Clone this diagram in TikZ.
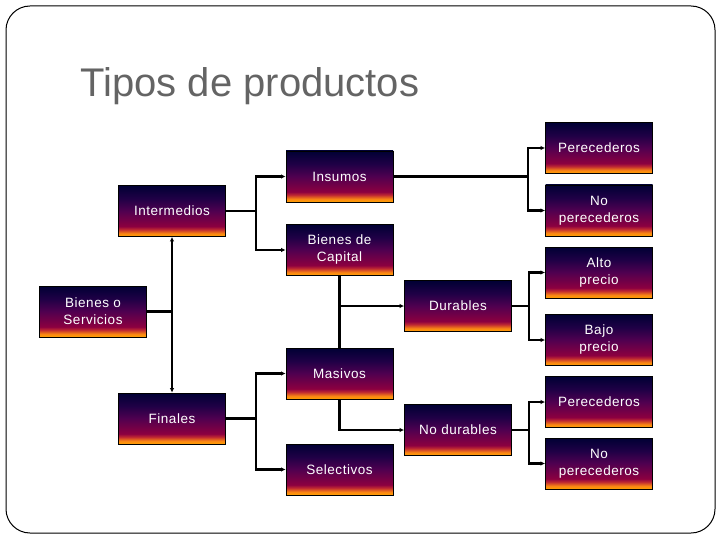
\documentclass[tikz,border=0pt]{standalone}
\usepackage{fontspec}
\setmainfont{Liberation Sans}
\newfontfamily\boxfont[LetterSpace=4]{Liberation Sans}
\usetikzlibrary{arrows.meta,positioning,calc}
\definecolor{titlegray}{RGB}{100,100,100}
\definecolor{shOrange}{RGB}{255,160,0}
\definecolor{shOrangeB}{RGB}{250,135,20}
\definecolor{shRed}{RGB}{190,40,50}
\definecolor{shCrimson}{RGB}{140,0,64}
\definecolor{shPurple}{RGB}{80,0,80}
\definecolor{shDeep}{RGB}{32,0,70}
\definecolor{shNavy}{RGB}{0,0,52}
\pgfdeclareverticalshading{boxshade}{100bp}{%
  color(0bp)=(shOrange); color(25bp)=(shOrange); color(28bp)=(shOrangeB);
  color(32bp)=(shRed); color(35bp)=(shCrimson); color(50bp)=(shPurple);
  color(62bp)=(shDeep); color(75bp)=(shNavy); color(100bp)=(shNavy)}

\begin{document}
\begin{tikzpicture}[
  x=1pt, y=-1pt,
  >={Latex[length=4.5pt,width=4.5pt]},
  every node/.style={font=\boxfont\fontsize{13.5}{17}\selectfont},
  catbox/.style={draw=black, line width=0.8pt, shading=boxshade,
    minimum width=107pt, minimum height=51pt, inner sep=0pt,
    text=white, align=center},
  link/.style={line width=2.2pt},
  branch/.style={line width=2.2pt, ->},
]
\useasboundingbox (0,0) rectangle (720,540);

% --- Frame and title ------------------------------------------
\draw[line width=1pt, rounded corners=24pt] (6,6) rectangle (715,533);
\node[anchor=base west, text=titlegray, font=\rmfamily\fontsize{40}{48}\selectfont] (title) at (77,97) {Tipos de productos};

% --- Nodes -----------------------------------------------------
% First level (left)
\node[catbox] (BoS) at (93,311.5) {Bienes o\\Servicios};
\node[catbox] (Inter) at (172,211) {Intermedios};
\node[catbox] (Fin) at (172,418.5) {Finales};

% Second level (center)
\node[catbox] (Ins) at (339.5,176.5) {Insumos};
\node[catbox] (BdC) at (339.5,250) {Bienes de\\Capital};
\node[catbox] (Mas) at (339.5,373.5) {Masivos};
\node[catbox] (Sel) at (339.5,469.5) {Selectivos};

% Third level
\node[catbox] (Dur) at (458,306) {Durables};
\node[catbox] (NoDur) at (458,430) {No durables};

% Leaves (right)
\node[catbox] (Per1) at (599,148) {Perecederos};
\node[catbox] (NoPer1) at (599,210.5) {No\\perecederos};
\node[catbox] (Alto) at (599,272.5) {Alto\\precio};
\node[catbox] (Bajo) at (599,340) {Bajo\\precio};
\node[catbox] (Per2) at (599,402) {Perecederos};
\node[catbox] (NoPer2) at (599,463.5) {No\\perecederos};

% --- Connectors ------------------------------------------------
% Bienes o Servicios
\draw[link] (BoS.east) -- (BoS.east -| Inter.south);
\draw[line width=2.2pt, <->] (Inter.south) -- (Fin.north);

% Intermedios
\draw[link] (Inter.east) -- ++(30,0) coordinate (jInter);
\draw[branch] (jInter) |- (Ins.west);
\draw[branch] (jInter) |- (BdC.west);

% Insumos
\draw[link] (Ins.east) -- (Ins.east -| 528,0) coordinate (jIns);
\draw[branch] (jIns) |- (Per1.west);
\draw[branch] (jIns) |- (NoPer1.west);

% Bienes de Capital / Masivos
\draw[link] (BdC.south) -- (Mas.north);
\draw[branch] (BdC.south |- Dur.west) -- (Dur.west);
\draw[branch] (Mas.south) |- (NoDur.west);

% Durables
\draw[link] (Dur.east) -- ++(17,0) coordinate (jDur);
\draw[branch] (jDur) |- (Alto.west);
\draw[branch] (jDur) |- (Bajo.west);

% No durables
\draw[link] (NoDur.east) -- ++(17,0) coordinate (jNoDur);
\draw[branch] (jNoDur) |- (Per2.west);
\draw[branch] (jNoDur) |- (NoPer2.west);

% Finales
\draw[link] (Fin.east) -- ++(30,0) coordinate (jFin);
\draw[branch] (jFin) |- (Mas.west);
\draw[branch] (jFin) |- (Sel.west);

\end{tikzpicture}
\end{document}
